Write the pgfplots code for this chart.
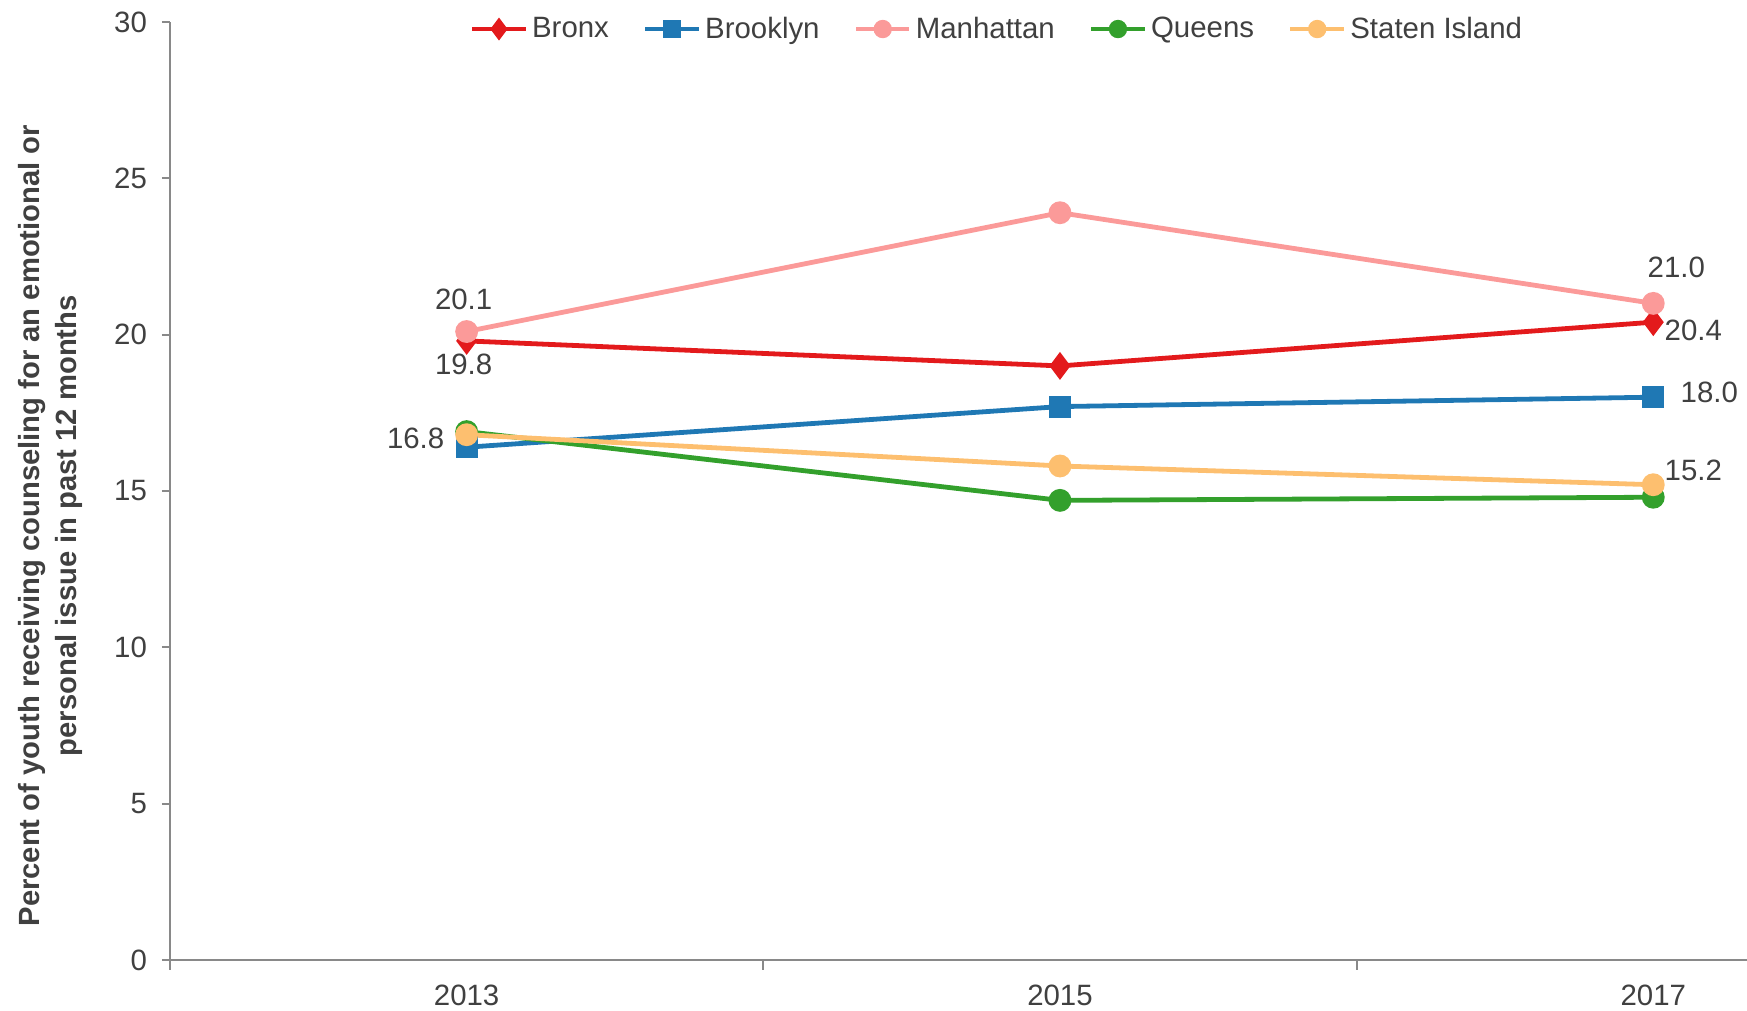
\documentclass[border=0pt]{standalone}
\usepackage{fontspec}
\setmainfont{Liberation Sans}
\usepackage{pgfplots}
\pgfplotsset{compat=1.18}
\definecolor{bronx}{HTML}{E31A1C}
\definecolor{brooklyn}{HTML}{1F78B4}
\definecolor{manhattan}{HTML}{FB9A99}
\definecolor{queens}{HTML}{33A02C}
\definecolor{staten}{HTML}{FDBF6F}
\definecolor{txt}{HTML}{404040}
\definecolor{axgray}{HTML}{898989}

\begin{document}
\begin{tikzpicture}
\path[use as bounding box] (-85pt,-25.5pt) rectangle (788.5pt,480pt);
\begin{axis}[
  at={(0,0)}, anchor=south west,
  scale only axis,
  width=788.5pt, height=469pt,
  xmin=-0.5, xmax=2.158,
  ymin=0, ymax=30,
  axis lines*=left,
  axis line style={axgray, line width=0.9pt},
  every tick/.style={axgray, line width=0.9pt},
  tick align=outside,
  xtick={0,1,2},
  xticklabels={2013,2015,2017},
  major x tick style={draw=none},
  minor xtick={-0.5,0.5,1.5},
  minor tick length=5pt,
  ytick={0,5,...,30},
  major tick length=4pt,
  ticklabel style={font=\fontsize{14.7}{17}\selectfont, text=txt},
  xticklabel style={yshift=-5pt},
  yticklabel style={xshift=-4pt},
  /pgf/number format/assume math mode=true,
  ylabel={Percent of youth receiving counseling for an emotional or\\personal issue in past 12 months},
  ylabel style={at={(axis description cs:-0.076,0.463)}, anchor=center,
    align=center, font=\bfseries\fontsize{14.6}{18.5}\selectfont, text=txt},
  legend columns=5,
  legend style={at={(axis description cs:0.525,0.9925)}, anchor=center,
    draw=none, fill=none, font=\fontsize{14.7}{17}\selectfont, text=txt,
    /tikz/every even column/.append style={column sep=15pt},
    /tikz/every odd column/.append style={inner xsep=0.5pt},
    inner sep=0pt},
  legend image code/.code={
    \draw[mark repeat=2,mark phase=2, mark options={scale=0.75}]
      plot coordinates {(0cm,0cm) (0.47cm,0cm) (0.94cm,0cm)};},
  clip=false,
]
\addplot[bronx, line width=2.4pt, mark=diamond*, mark size=5pt, mark options={solid}]
  coordinates {(0,19.8) (1,19.0) (2,20.4)};
\addlegendentry{Bronx}
\addplot[brooklyn, line width=2.4pt, mark=square*, mark size=4.3pt]
  coordinates {(0,16.4) (1,17.7) (2,18.0)};
\addlegendentry{Brooklyn}
\addplot[manhattan, line width=2.4pt, mark=*, mark size=4.5pt]
  coordinates {(0,20.1) (1,23.9) (2,21.0)};
\addlegendentry{Manhattan}
\addplot[queens, line width=2.4pt, mark=*, mark size=4.5pt]
  coordinates {(0,16.9) (1,14.7) (2,14.8)};
\addlegendentry{Queens}
\addplot[staten, line width=2.4pt, mark=*, mark size=4.5pt]
  coordinates {(0,16.8) (1,15.8) (2,15.2)};
\addlegendentry{Staten Island}

\begin{scope}[every node/.style={font=\fontsize{14.7}{17}\selectfont, text=txt, inner sep=0pt}]
\node at (axis cs:0,20.1) [yshift=16pt, xshift=-1.5pt] {20.1};
\node at (axis cs:0,19.8) [yshift=-11.5pt, xshift=-1.5pt] {19.8};
\node at (axis cs:0,16.8) [xshift=-25.5pt, yshift=-2pt] {16.8};
\node at (axis cs:2,21.0) [xshift=11.5pt, yshift=18pt] {21.0};
\node at (axis cs:2,20.4) [xshift=20pt, yshift=-4pt] {20.4};
\node at (axis cs:2,18.0) [xshift=28pt, yshift=2.5pt] {18.0};
\node at (axis cs:2,15.2) [xshift=20pt, yshift=7pt] {15.2};
\end{scope}
\end{axis}
\end{tikzpicture}
\end{document}
